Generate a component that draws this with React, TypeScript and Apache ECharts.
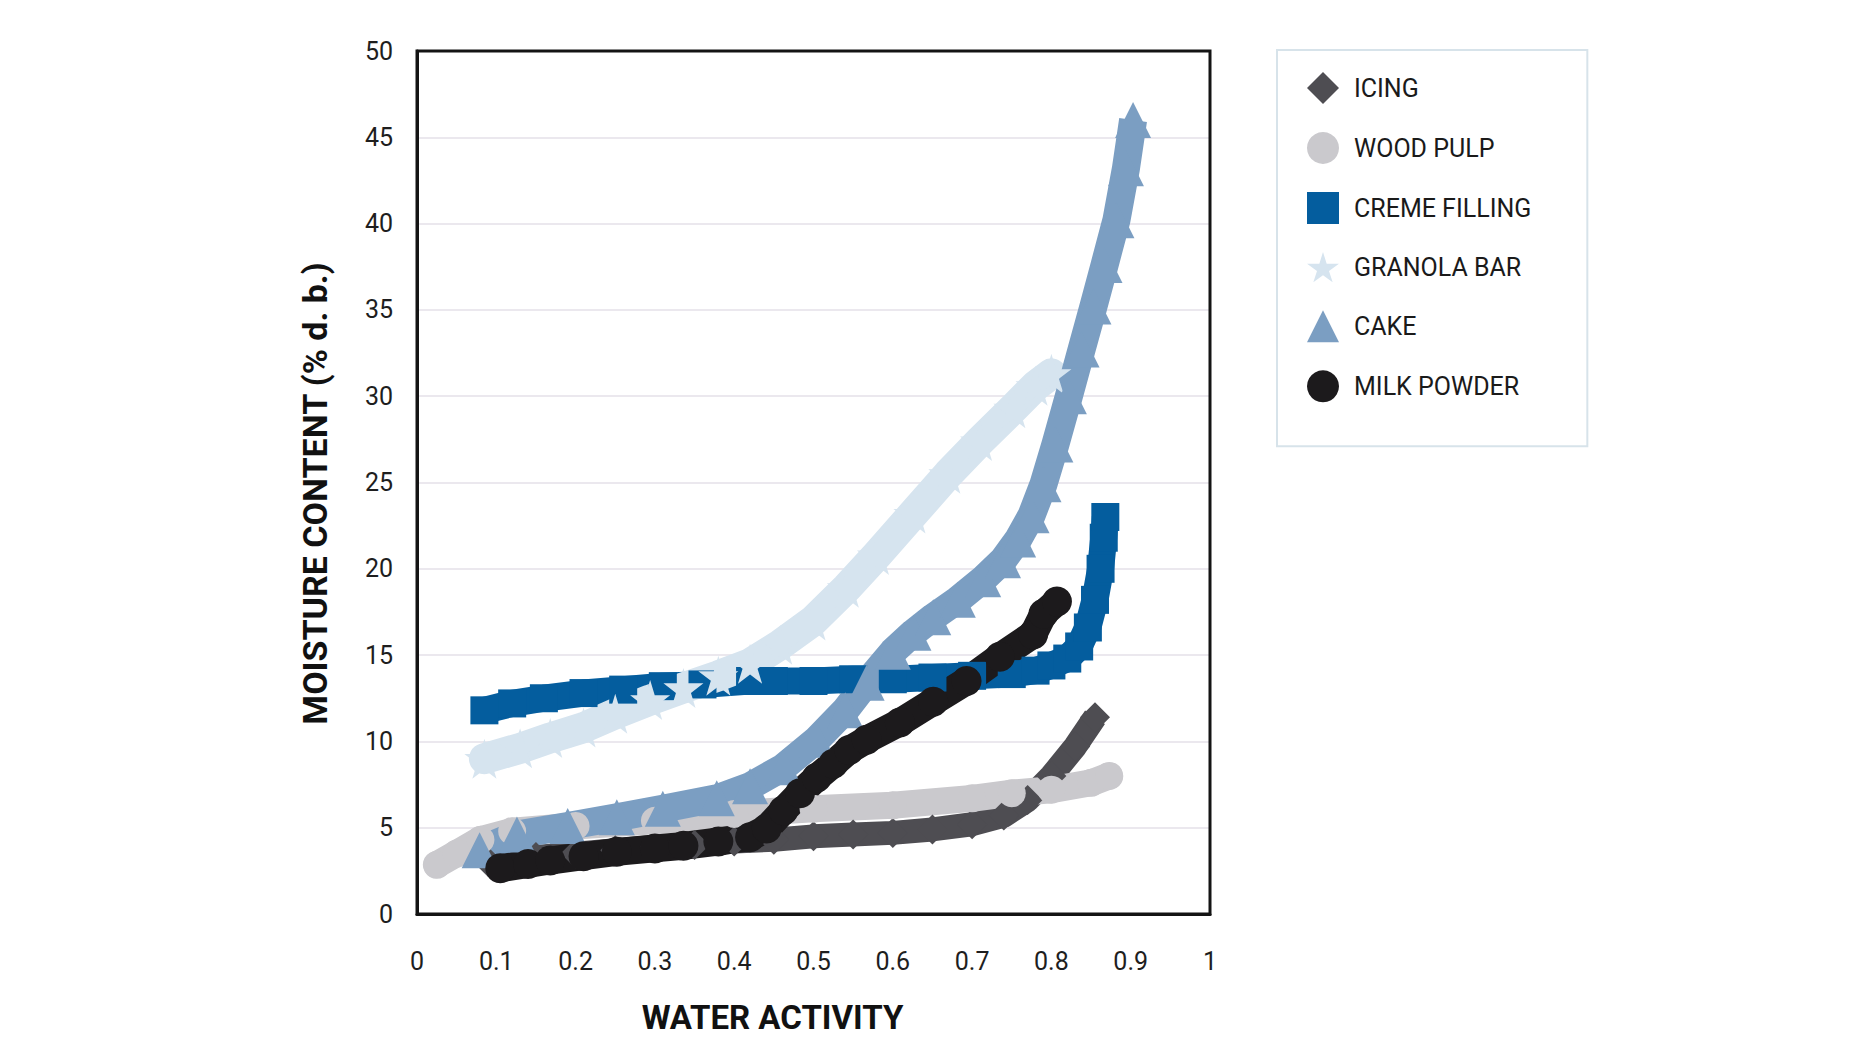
import React, { useEffect, useRef } from "react";
import * as echarts from "echarts";

// [water activity, moisture content % d.b.]
const icing: number[][] = [
  [0.09, 3.0], [0.15, 3.3], [0.2, 3.5], [0.25, 3.7], [0.3, 3.9], [0.35, 4.0], [0.4, 4.2],
  [0.45, 4.3], [0.5, 4.5], [0.55, 4.6], [0.6, 4.7], [0.65, 4.9], [0.7, 5.2], [0.74, 5.7],
  [0.77, 6.6], [0.8, 8.0], [0.83, 9.7], [0.855, 11.4],
];
const woodPulp: number[][] = [
  [0.025, 2.85], [0.05, 3.5], [0.08, 4.3], [0.12, 4.8], [0.2, 5.1], [0.3, 5.4], [0.4, 5.8],
  [0.5, 6.1], [0.6, 6.3], [0.7, 6.7], [0.75, 7.0], [0.8, 7.2], [0.85, 7.6], [0.873, 8.0],
];
const cremeFilling: number[][] = [
  [0.085, 11.8], [0.12, 12.2], [0.16, 12.5], [0.21, 12.8], [0.26, 13.0], [0.31, 13.2],
  [0.36, 13.3], [0.42, 13.5], [0.45, 13.5], [0.5, 13.5], [0.55, 13.6], [0.6, 13.6],
  [0.65, 13.7], [0.7, 13.8], [0.75, 13.9], [0.78, 14.1], [0.8, 14.4], [0.82, 14.8],
  [0.835, 15.5], [0.846, 16.6], [0.855, 18.2], [0.862, 20.0], [0.866, 21.8], [0.868, 23.0],
];
const granolaBar: number[][] = [
  [0.085, 9.0], [0.13, 9.6], [0.168, 10.2], [0.21, 10.8], [0.25, 11.6], [0.294, 12.4],
  [0.336, 13.1], [0.38, 13.8], [0.42, 14.5], [0.458, 15.6], [0.5, 17.0], [0.542, 18.9],
  [0.58, 20.8], [0.626, 23.2], [0.67, 25.5], [0.71, 27.4], [0.752, 29.3], [0.78, 30.6],
  [0.8, 31.3],
];
const cake: number[][] = [
  [0.079, 3.7], [0.126, 4.6], [0.19, 5.1], [0.252, 5.6], [0.31, 6.1], [0.378, 6.7],
  [0.42, 7.4], [0.462, 8.5], [0.504, 10.1], [0.54, 11.8], [0.567, 13.4], [0.6, 15.2],
  [0.626, 16.3], [0.651, 17.2], [0.682, 18.2], [0.714, 19.4], [0.739, 20.5], [0.758, 21.7],
  [0.775, 23.1], [0.79, 24.9], [0.805, 27.2], [0.822, 30.0], [0.838, 32.7], [0.853, 35.2],
  [0.867, 37.6], [0.882, 40.2], [0.894, 43.2], [0.903, 46.0],
];
const milkPowder: number[][] = [
  [0.105, 2.65], [0.14, 2.9], [0.168, 3.1], [0.21, 3.35], [0.252, 3.6], [0.3, 3.8],
  [0.336, 3.95], [0.38, 4.2], [0.42, 4.45], [0.441, 4.95], [0.462, 6.0], [0.483, 7.0],
  [0.504, 7.9], [0.525, 8.7], [0.545, 9.5], [0.567, 10.1], [0.609, 11.1], [0.651, 12.3],
  [0.693, 13.5], [0.735, 14.9], [0.777, 16.2], [0.79, 17.4], [0.807, 18.1],
];

const seriesNames = ["ICING", "WOOD PULP", "CREME FILLING", "GRANOLA BAR", "CAKE", "MILK POWDER"];
const xTickLabels = ["0", "0.1", "0.2", "0.3", "0.4", "0.5", "0.6", "0.7", "0.8", "0.9", "1"];

const STAR = "path://M50,0 L61,35 L98,35 L68,57 L79,91 L50,70 L21,91 L32,57 L2,35 L39,35 Z";
const FONT = "Roboto, 'Noto Sans', sans-serif";

export default function App() {
  const ref = useRef<HTMLDivElement>(null);
  useEffect(() => {
    if (!ref.current) return;
    const chart = echarts.init(ref.current, null, { renderer: "svg" });

    const mk = (
      name: string,
      data: number[][],
      color: string,
      symbol: string,
      symbolSize: number,
      width: number,
      cap: "round" | "butt" | "square"
    ) => ({
      name,
      type: "line",
      data,
      symbol,
      symbolSize,
      showSymbol: true,
      smooth: false,
      itemStyle: { color, borderWidth: 0 },
      lineStyle: { color, width, cap, join: "round" },
      emphasis: { disabled: true },
      z: 2,
    });

    chart.setOption({
      animation: false,
      backgroundColor: "#ffffff",
      textStyle: { fontFamily: FONT },
      grid: {
        left: 417,
        top: 51,
        width: 793,
        height: 863,
        show: true,
        borderColor: "#141414",
        borderWidth: 3,
        backgroundColor: "transparent",
        z: 3,
      },
      legend: {
        orient: "vertical",
        left: 1277,
        top: 50,
        padding: [22, 56, 44, 30],
        itemWidth: 32,
        itemHeight: 32,
        itemGap: 28,
        borderColor: "#d7e3ea",
        borderWidth: 2,
        selectedMode: false,
        textStyle: { fontSize: 25, color: "#1a1a1a", fontFamily: FONT, fontWeight: 400, padding: [0, 0, 0, 10] },
        data: [
          { name: seriesNames[0], icon: "diamond" },
          { name: seriesNames[1], icon: "circle" },
          { name: seriesNames[2], icon: "rect" },
          { name: seriesNames[3], icon: STAR },
          { name: seriesNames[4], icon: "triangle" },
          { name: seriesNames[5], icon: "circle" },
        ],
      },
      xAxis: {
        type: "value",
        min: 0,
        max: 1,
        interval: 0.1,
        name: "WATER ACTIVITY",
        nameLocation: "middle",
        nameGap: 103,
        nameTextStyle: {
          fontSize: 33,
          fontWeight: "bold",
          color: "#111",
          fontFamily: FONT,
          verticalAlign: "middle",
          padding: [0, 82, 0, 0],
        },
        axisLine: { show: true, lineStyle: { color: "#141414", width: 3 } },
        axisTick: { show: false },
        splitLine: { show: false },
        axisLabel: {
          fontSize: 25,
          color: "#1e1e1e",
          margin: 35,
          formatter: (v: number) => xTickLabels[Math.round(v * 10)] ?? "",
        },
      },
      yAxis: {
        type: "value",
        min: 0,
        max: 50,
        interval: 5,
        name: "MOISTURE CONTENT (% d. b.)",
        nameLocation: "middle",
        nameGap: 102,
        nameTextStyle: {
          fontSize: 34,
          fontWeight: "bold",
          color: "#111",
          fontFamily: FONT,
          verticalAlign: "middle",
          align: "center",
          padding: [0, 22, 0, 0],
        },
        axisLine: { show: true, lineStyle: { color: "#141414", width: 3 } },
        axisTick: { show: false },
        splitLine: { show: true, showMinLine: false, showMaxLine: false, lineStyle: { color: "#ebe8ee", width: 2 } },
        axisLabel: { fontSize: 25, color: "#1e1e1e", margin: 24 },
      },
      series: [
        mk(seriesNames[0], icing, "#4e4d52", "diamond", 30, 24, "butt"),
        mk(seriesNames[1], woodPulp, "#cac9cd", "circle", 28, 27, "round"),
        mk(seriesNames[2], cremeFilling, "#045d9e", "rect", 28, 27, "butt"),
        mk(seriesNames[3], granolaBar, "#d6e4ef", STAR, 40, 31, "round"),
        mk(seriesNames[4], cake, "#7b9ec2", "triangle", 36, 28, "butt"),
        mk(seriesNames[5], milkPowder, "#1c1a1c", "circle", 30, 28, "round"),
      ],
    });
    return () => chart.dispose();
  }, []);

  return (
    <div
      ref={ref}
      style={{ position: "fixed", left: 0, top: 0, width: 1872, height: 1052, background: "#fff" }}
    />
  );
}
